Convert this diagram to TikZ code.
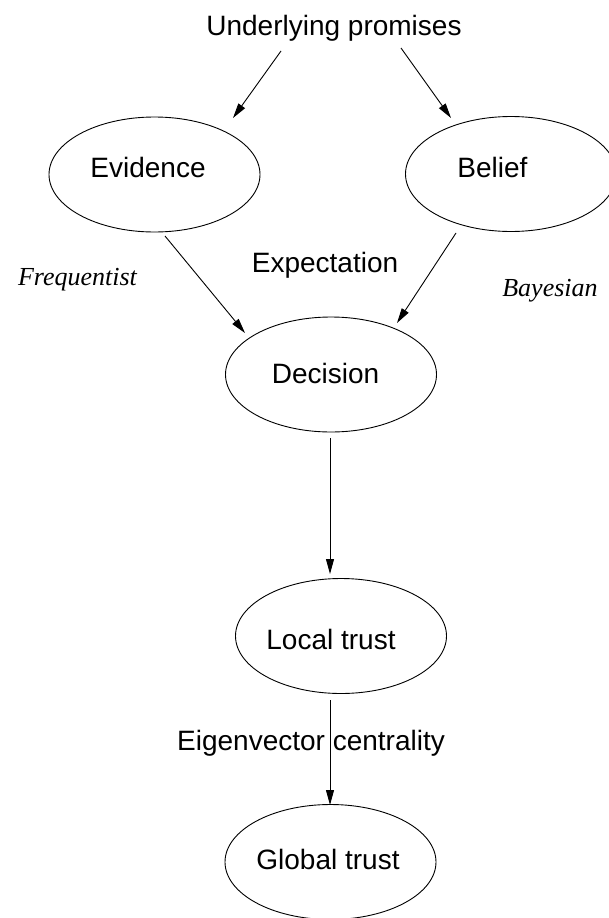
\documentclass[tikz,border=0pt]{standalone}
\usepackage{fontspec}
\setmainfont{Liberation Sans}
\newfontfamily\seriffont{Liberation Serif}
\usetikzlibrary{shapes.geometric,arrows.meta}
\tikzset{
  oval/.style={draw=black, line width=0.9pt, ellipse, inner sep=0pt,
    minimum width=211pt, minimum height=115pt},
  lbl/.style={anchor=base, inner sep=0pt, font=\fontsize{28}{34}\selectfont},
  side/.style={anchor=base, inner sep=0pt, font=\fontsize{26}{31}\selectfont\seriffont\itshape},
  arr/.style={line width=0.9pt, -{Triangle[length=15pt,width=8pt]}}
}
\begin{document}
\begin{tikzpicture}[x=1pt,y=-1pt]
\useasboundingbox (0,0) rectangle (608,918);
% ellipses
\node[oval] (ev)  at (154.5,174.5) {};
\node[oval] (be)  at (511,174) {};
\node[oval] (de)  at (331,374.5) {};
\node[oval] (lo)  at (341,636) {};
\node[oval] (gl)  at (330.5,862) {};
% texts
\node[lbl] (up)   at (334,35)  {Underlying promises};
\node[lbl] (evt)  at (148,177) {Evidence};
\node[lbl] (bet)  at (492.5,177) {Belief};
\node[lbl] (ex)   at (325,272) {Expectation};
\node[lbl] (det)  at (325.5,383) {Decision};
\node[lbl] (lot)  at (331,649) {Local trust};
\node[lbl] (eig)  at (311,750) {Eigenvector centrality};
\node[lbl] (glt)  at (328,869) {Global trust};
\node[side] (fr)  at (77.5,285) {Frequentist};
\node[side] (ba)  at (550,296) {Bayesian};
% connector end points
\coordinate (a1) at (281,51);  \coordinate (a2) at (233,118);
\coordinate (b1) at (401,48);  \coordinate (b2) at (451,118);
\coordinate (c1) at (165,236); \coordinate (c2) at (245,333);
\coordinate (d1) at (456,233); \coordinate (d2) at (397,323);
\coordinate (e1) at (330,438); \coordinate (e2) at (330,574);
\coordinate (f1) at (330,700); \coordinate (f2) at (330,805);
\draw[arr] (a1) -- (a2);
\draw[arr] (b1) -- (b2);
\draw[arr] (c1) -- (c2);
\draw[arr] (d1) -- (d2);
\draw[arr] (e1) -- (e2);
\draw[arr] (f1) -- (f2);
\end{tikzpicture}
\end{document}
